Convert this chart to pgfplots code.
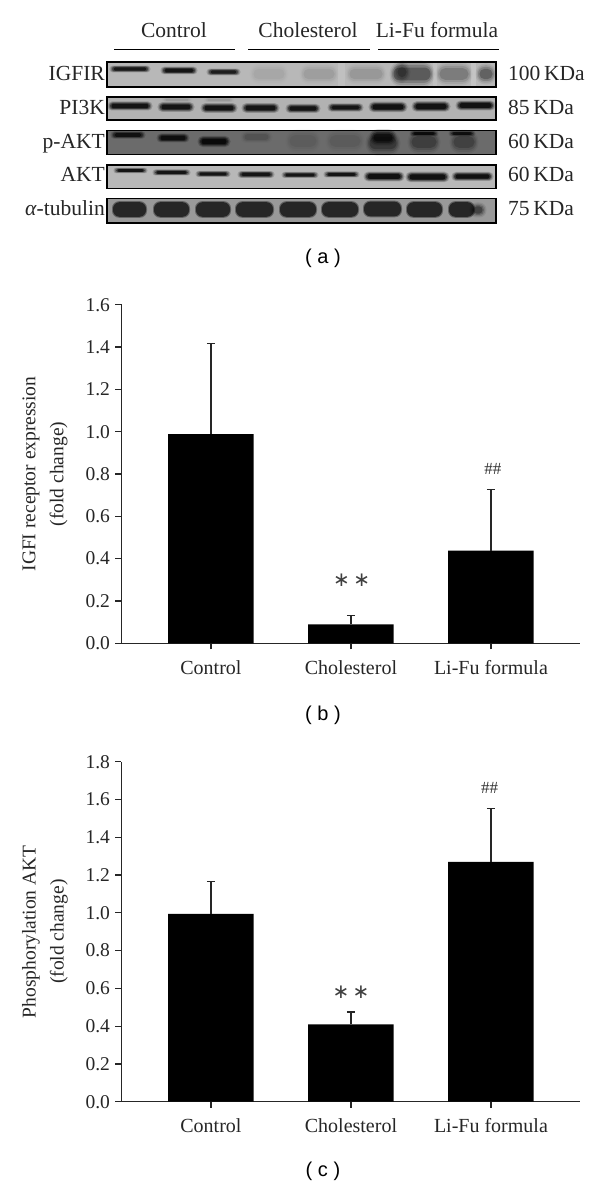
\documentclass[border=0pt]{standalone}
\usepackage{pgfplots}
\usepackage{pgfplotstable}
\usepackage{fontspec}
\pgfplotsset{compat=1.18}
\setmainfont{Liberation Serif}
\setsansfont{Liberation Sans}
\newfontfamily\symfont{DejaVu Sans}
\pgfplotstableread{
x y err
0 0.988 0.428
1 0.090 0.040
2 0.438 0.287
}\igfi
\pgfplotstableread{
x y err
0 0.994 0.173
1 0.410 0.065
2 1.270 0.283
}\pakt
\newcommand\lay[7]{% x0 x1 yc h/2 dx factor opacity
 \pgfmathsetmacro\xa{#1-#5}\pgfmathsetmacro\xb{#2+#5}%
 \pgfmathsetmacro\ya{#3-#4*#6}\pgfmathsetmacro\yb{#3+#4*#6}%
 \pgfmathsetmacro\rc{#4*#6*0.95}%
 \edef\tmp{\noexpand\fill[black,fill opacity=#7,rounded corners=\rc pt] (axis cs:\xa,\ya) rectangle (axis cs:\xb,\yb);}\tmp}
% x0 x1 yc height darkness
\newcommand\band[5]{%
 \pgfmathsetmacro\hhh{#4/2}%
 \pgfmathsetmacro\oa{#5*0.18}\pgfmathsetmacro\ob{#5*0.28}\pgfmathsetmacro\oc{#5*0.45}\pgfmathsetmacro\od{#5*0.7}%
 \lay{#1}{#2}{#3}{\hhh}{2.5}{1.5}{\oa}%
 \lay{#1}{#2}{#3}{\hhh}{1.2}{1.25}{\ob}%
 \lay{#1}{#2}{#3}{\hhh}{0}{1.0}{\oc}%
 \lay{#1}{#2}{#3}{\hhh}{-1.5}{0.72}{\od}}
\newcommand\blob[3]{% x0 x1 yc : solid tubulin band
 \pgfmathsetmacro\xa{#1-1}\pgfmathsetmacro\xb{#2+1}\pgfmathsetmacro\ya{#3-8.3}\pgfmathsetmacro\yb{#3+8.3}%
 \edef\tmp{\noexpand\fill[black,fill opacity=0.35,rounded corners=7pt] (axis cs:\xa,\ya) rectangle (axis cs:\xb,\yb);}\tmp
 \pgfmathsetmacro\ya{#3-7.3}\pgfmathsetmacro\yb{#3+7.3}%
 \edef\tmp{\noexpand\fill[black!85,rounded corners=6.5pt] (axis cs:#1,\ya) rectangle (axis cs:#2,\yb);}\tmp}
\newcommand\strip[3]{% y0 y1 gray
 \fill[black!#3!white] (axis cs:107,#1) rectangle (axis cs:496,#2);}
\newcommand\frm[2]{\draw[black,line width=1.3pt] (axis cs:107,#1) rectangle (axis cs:496,#2);}
\newcommand\gap[5]{\fill[white,fill opacity=#5] (axis cs:#1,#3) rectangle (axis cs:#2,#4);}
\pgfplotsset{
 barax/.style={
  scale only axis, width=458.5pt, axis lines=left, axis line style={-,black!85,line width=1.2pt},
  xmin=-0.639, xmax=2.636, ymin=0, enlargelimits=false, clip=false,
  xtick={0,1,2}, xticklabels={Control,Cholesterol,Li-Fu formula},
  tick align=outside, major tick length=6pt, tick style={black!85,line width=1.2pt},
  xtick pos=bottom, ytick pos=left,
  ticklabel style={font=\fontsize{19.5}{21}\selectfont, text=black!85},
  x tick label style={font=\fontsize{20}{22}\selectfont, yshift=-7.5pt},
  y tick label style={xshift=-2pt,/pgf/number format/fixed,/pgf/number format/fixed zerofill,/pgf/number format/precision=1,/pgf/number format/assume math mode=true},
  every axis y label/.style={at={(axis description cs:-0.167,0.5)},rotate=90,anchor=center,align=center,font=\fontsize{19.5}{28}\selectfont,text=black!85},
 },
 barst/.style={ybar, bar width=85.5pt, bar shift=0pt, fill=black, draw=none,
  error bars/.cd, y dir=plus, y explicit, error bar style={black!85,line width=1.2pt}, error mark options={rotate=90,mark size=4pt,black!85,line width=1.2pt}},
}
\newcommand\capt[1]{\sffamily\fontsize{20}{22}\selectfont (~#1~)}
\begin{document}
\begin{tikzpicture}[x=1pt,y=1pt]
\path (0,0) rectangle (600,1187);
% panel a
\begin{axis}[at={(0pt,947pt)}, anchor=south west, scale only axis, width=600pt, height=240pt,
  xmin=0, xmax=600, ymin=0, ymax=240, y dir=reverse, hide axis, clip=false]
\addplot[draw=none] coordinates {(0,0) (600,240)};
% backgrounds
\strip{62}{87}{28}
\strip{97}{120}{30}
\strip{130.5}{154.5}{58}
\strip{165}{188.5}{28}
\strip{198.5}{223}{40}
% IGFIR
\band{112}{148}{69}{4.5}{0.9}
\band{163}{195}{70.5}{5}{0.95}
\band{209}{238}{72}{4.5}{0.85}
\band{252}{286}{74}{14}{0.05}
\band{302}{336}{74}{14}{0.09}
\band{348}{384}{74}{14}{0.11}
\band{392}{432}{74}{18}{0.38}
\band{396}{408}{72}{15}{0.32}
\band{438}{470}{74}{16}{0.22}
\band{478}{494}{74}{14}{0.35}
\gap{433}{437}{63}{86}{0.12}
\gap{471}{476}{63}{86}{0.18}
\gap{338}{345}{63}{86}{0.12}
% PI3K
\band{110}{150}{106}{6}{0.95}
\band{160}{192}{107}{6.5}{0.95}
\band{203}{235}{108}{6.5}{0.95}
\band{244}{277}{108}{6.5}{0.95}
\band{288}{318}{108.5}{6}{0.95}
\band{330}{361}{107.5}{5.5}{0.95}
\band{371}{405}{107}{7}{0.98}
\band{414}{448}{106.5}{7}{0.98}
\band{458}{493}{105.5}{6.5}{0.98}
\band{164}{190}{100}{3}{0.08}
\band{206}{232}{100}{3}{0.08}
% p-AKT
\band{113}{143}{135}{5}{0.85}
\band{159}{187}{138}{6}{0.9}
\band{200}{228}{141.5}{7.5}{1}
\band{243}{270}{137}{8}{0.14}
\band{288}{318}{141}{16}{0.08}
\band{328}{362}{141}{16}{0.09}
\band{372}{394}{137.5}{11}{0.7}
\band{368}{398}{143}{17}{0.35}
\band{412}{436}{133.5}{3.5}{0.85}
\band{410}{438}{142}{16}{0.3}
\band{451}{473}{133.5}{3.5}{0.8}
\band{452}{476}{142}{16}{0.28}
% AKT
\band{116}{145}{170.5}{3.5}{0.95}
\band{155}{188}{172.5}{4}{0.95}
\band{198}{228}{174}{4}{0.95}
\band{240}{272}{174.5}{4.5}{0.95}
\band{284}{316}{175}{4}{0.95}
\band{326}{357}{174.5}{4}{0.95}
\band{366}{402}{176.5}{6.5}{1}
\band{408}{447}{177}{7}{1}
\band{454}{491}{176.5}{6}{1}
% tubulin
\blob{113}{146}{209.5}
\blob{154}{189}{209.5}
\blob{196}{230}{209.5}
\blob{236}{273}{209.5}
\blob{280}{316}{209.5}
\blob{322}{358}{209.5}
\blob{364}{401}{209}
\blob{407}{442}{209.5}
\blob{449}{474}{209.5}
\band{472}{484}{210}{10}{0.45}
% frames
\frm{62}{87}
\frm{97}{120}
\frm{130.5}{154.5}
\frm{165}{188.5}
\frm{198.5}{223}
% group labels
\draw[black,line width=1.2pt] (axis cs:114,49.7) -- (axis cs:235,49.7);
\draw[black,line width=1.2pt] (axis cs:248,49.7) -- (axis cs:370,49.7);
\draw[black,line width=1.2pt] (axis cs:378,49.7) -- (axis cs:499,49.7);
\begin{scope}[every node/.style={font=\fontsize{21.5}{24}\selectfont,text=black!85,inner sep=0pt}]
\node[anchor=base] at (axis cs:174,37.7) {Control};
\node[anchor=base] at (axis cs:308,37.7) {Cholesterol};
\node[anchor=base] at (axis cs:437,37.7) {Li-Fu formula};
\node[anchor=base east] at (axis cs:105,80.7) {IGFIR};
\node[anchor=base east] at (axis cs:105,114.3) {PI3K};
\node[anchor=base east] at (axis cs:105,148.3) {p-AKT};
\node[anchor=base east] at (axis cs:105,182) {AKT};
\node[anchor=base east] at (axis cs:105,216) {\textit{α}-tubulin};
\node[anchor=base west] at (axis cs:508,80.7) {100\,KDa};
\node[anchor=base west] at (axis cs:508,114.3) {85\,KDa};
\node[anchor=base west] at (axis cs:508,148.3) {60\,KDa};
\node[anchor=base west] at (axis cs:508,182) {60\,KDa};
\node[anchor=base west] at (axis cs:508,216) {75\,KDa};
\end{scope}
\node[inner sep=0pt] at (axis cs:323,258) {\capt{a}};
\end{axis}
% panel b
\begin{axis}[barax, at={(121.5pt,543.7pt)}, anchor=south west, height=338.6pt, ymax=1.6, ytick={0,0.2,...,1.6},
  ylabel={IGFI receptor expression\\(fold change)}]
\addplot[barst] table[x=x,y=y,y error plus=err]{\igfi};
\node[font=\symfont\fontsize{20}{22}\selectfont,text=black!75,inner sep=0pt] at (axis cs:1.005,0.296) {∗\,∗};
\node[font=\fontsize{17}{19}\selectfont,text=black!80,inner sep=0pt] at (axis cs:2.014,0.824) {\#\#};
\node[inner sep=0pt] at (axis cs:0.8,-0.338) {\capt{b}};
\end{axis}
% panel c
\begin{axis}[barax, at={(121.5pt,85.3pt)}, anchor=south west, height=340pt, ymax=1.8, ytick={0,0.2,...,1.8},
  ylabel={Phosphorylation AKT\\(fold change)}]
\addplot[barst] table[x=x,y=y,y error plus=err]{\pakt};
\node[font=\symfont\fontsize{20}{22}\selectfont,text=black!75,inner sep=0pt] at (axis cs:1.0,0.577) {∗\,∗};
\node[font=\fontsize{17}{19}\selectfont,text=black!80,inner sep=0pt] at (axis cs:1.99,1.661) {\#\#};
\node[inner sep=0pt] at (axis cs:0.8,-0.37) {\capt{c}};
\end{axis}
\end{tikzpicture}
\end{document}
